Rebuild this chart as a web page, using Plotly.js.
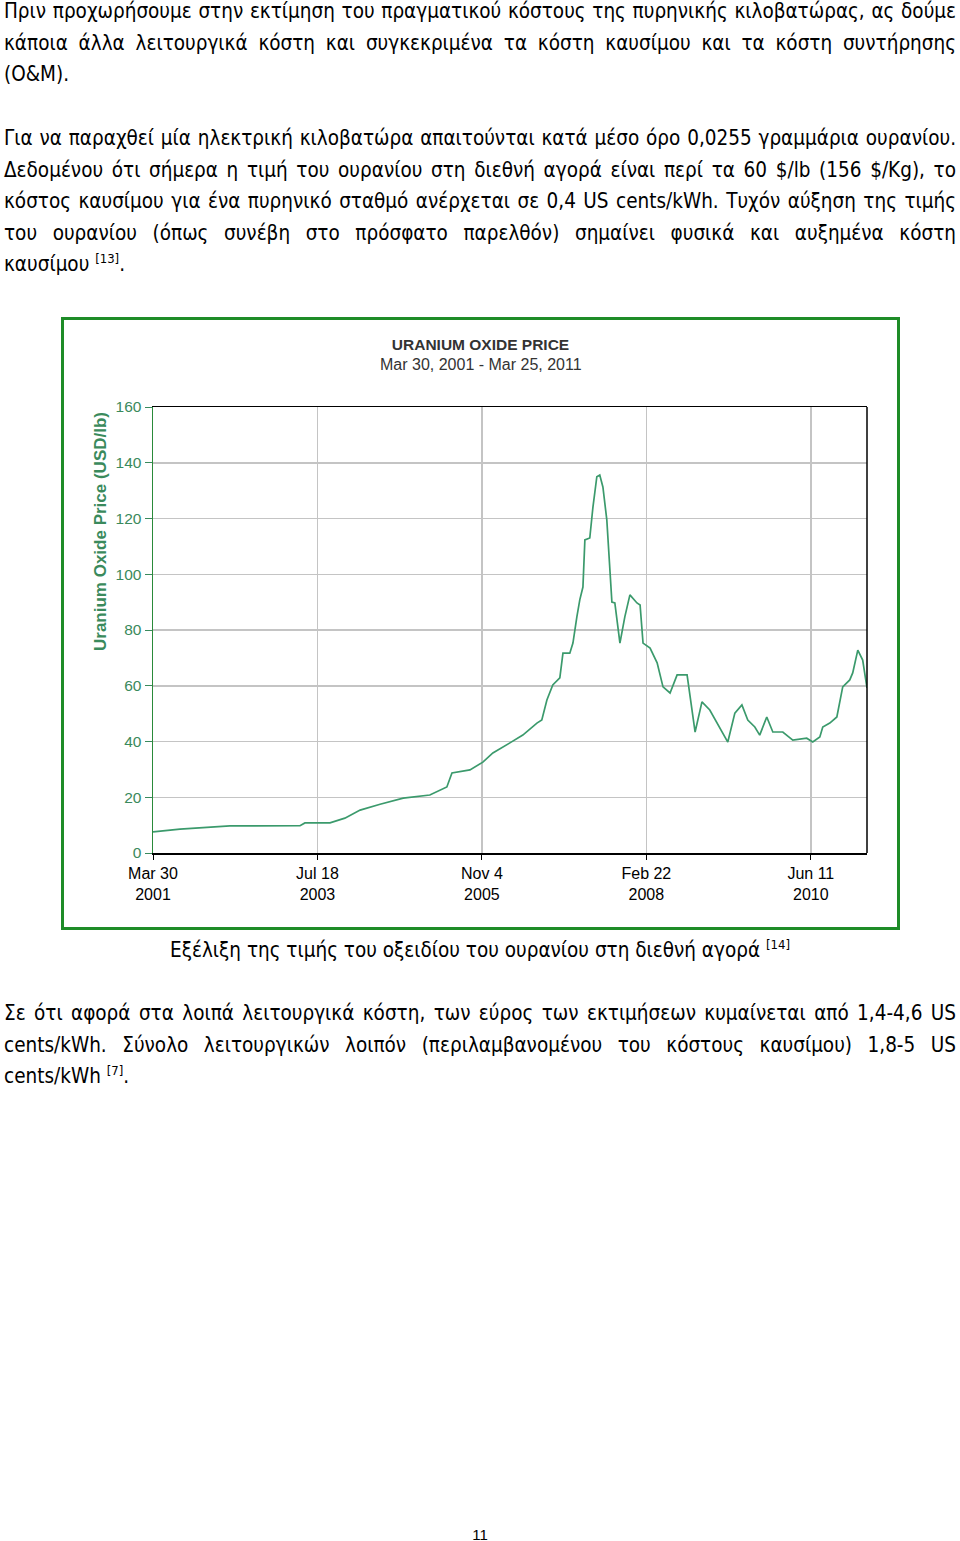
<!DOCTYPE html>
<html>
<head>
<meta charset="utf-8">
<script src="https://cdn.plot.ly/plotly-3.0.1.min.js"></script>
<style>
  html, body { margin:0; padding:0; background:#fff; }
  body { width:960px; height:1541px; position:relative; overflow:hidden; font-family:"DejaVu Sans Condensed","DejaVu Sans",sans-serif; color:#000; }
  div.pline { position:absolute; left:4px; width:952px; font-size:20.5px; line-height:22px; white-space:nowrap; text-align:justify; text-align-last:justify; }
  div.plast { text-align-last:left; }
  sup { font-size:13px; vertical-align:8px; line-height:0; }
  #frame { position:absolute; left:61px; top:317px; width:833px; height:607px; border:3px solid #1e8c28; }
  #chart { width:833px; height:607px; }
  .caption { position:absolute; left:0; width:960px; text-align:center; font-size:20.5px; line-height:22px; }
  .pnum { position:absolute; left:0; width:960px; text-align:center; top:1526px; font-family:"Liberation Sans",Arial,sans-serif; font-size:15px; }
</style>
</head>
<body>
<div class="pline" style="top:0px">Πριν προχωρήσουμε στην εκτίμηση του πραγματικού κόστους της πυρηνικής κιλοβατώρας, ας δούμε</div>
<div class="pline" style="top:32px">κάποια άλλα λειτουργικά κόστη και συγκεκριμένα τα κόστη καυσίμου και τα κόστη συντήρησης</div>
<div class="pline plast" style="top:63px">(O&amp;M).</div>
<div class="pline" style="top:127px">Για να παραχθεί μία ηλεκτρική κιλοβατώρα απαιτούνται κατά μέσο όρο 0,0255 γραμμάρια ουρανίου.</div>
<div class="pline" style="top:159px">Δεδομένου ότι σήμερα η τιμή του ουρανίου στη διεθνή αγορά είναι περί τα 60 $/lb (156 $/Kg), το</div>
<div class="pline" style="top:190px">κόστος καυσίμου για ένα πυρηνικό σταθμό ανέρχεται σε 0,4 US cents/kWh. Τυχόν αύξηση της τιμής</div>
<div class="pline" style="top:222px">του ουρανίου (όπως συνέβη στο πρόσφατο παρελθόν) σημαίνει φυσικά και αυξημένα κόστη</div>
<div class="pline plast" style="top:253px">καυσίμου <sup>[13]</sup>.</div>

<div id="frame"><div id="chart"></div></div>

<div class="caption" style="top:939px">Εξέλιξη της τιμής του οξειδίου του ουρανίου στη διεθνή αγορά <sup>[14]</sup></div>

<div class="pline" style="top:1002px">Σε ότι αφορά στα λοιπά λειτουργικά κόστη, των εύρος των εκτιμήσεων κυμαίνεται από 1,4-4,6 US</div>
<div class="pline" style="top:1034px">cents/kWh. Σύνολο λειτουργικών λοιπόν (περιλαμβανομένου του κόστους καυσίμου) 1,8-5 US</div>
<div class="pline plast" style="top:1065px">cents/kWh <sup>[7]</sup>.</div>

<div class="pnum">11</div>

<script>
const dates = ["2001-03-30","2001-08-15","2002-04-27","2003-04-20","2003-05-15","2003-09-20","2003-12-05","2004-02-21","2004-06-02","2004-09-28","2005-02-11","2005-05-09","2005-06-04","2005-09-04","2005-11-09","2005-12-30","2006-03-27","2006-06-01","2006-08-12","2006-09-06","2006-10-02","2006-11-01","2006-12-07","2006-12-23","2007-01-27","2007-02-12","2007-03-04","2007-03-19","2007-04-04","2007-04-14","2007-05-09","2007-05-25","2007-06-14","2007-06-29","2007-07-15","2007-08-04","2007-08-30","2007-09-14","2007-10-10","2007-11-04","2007-11-30","2008-01-05","2008-01-21","2008-02-05","2008-03-12","2008-04-17","2008-05-17","2008-06-22","2008-07-28","2008-09-17","2008-10-28","2008-12-02","2009-01-11","2009-02-16","2009-04-13","2009-05-19","2009-06-24","2009-07-24","2009-08-29","2009-09-23","2009-10-29","2009-11-29","2010-01-19","2010-03-11","2010-05-21","2010-06-21","2010-07-27","2010-08-11","2010-09-16","2010-10-22","2010-11-21","2010-12-27","2011-01-11","2011-02-06","2011-03-03","2011-03-25"];
const prices = [7.6,8.6,9.7,9.8,10.8,10.8,12.5,15.4,17.5,19.7,20.8,23.7,28.7,29.8,32.6,35.9,39.5,42.3,46.6,47.7,54.9,60.3,62.8,71.7,71.7,75.3,84.7,90.8,95.4,112.3,113,124,135,135.6,131.3,119.5,90,89.7,75.3,84.7,92.6,89.7,89,75.3,73.5,68.2,59.6,57.4,63.9,63.9,43.4,54.2,51.3,46.6,39.8,50.2,53.1,47.7,45.2,42.3,48.8,43.4,43.4,40.5,41.2,39.8,41.6,45.2,46.6,48.8,59.6,62.1,64.6,72.8,69.2,59.2];
const tickDates = ["2001-03-30","2003-07-18","2005-11-04","2008-02-22","2010-06-11"];
const tickLabels = ["Mar 30<br>2001","Jul 18<br>2003","Nov 4<br>2005","Feb 22<br>2008","Jun 11<br>2010"];
const chartTitle = "URANIUM OXIDE PRICE";
const chartSubtitle = "Mar 30, 2001 - Mar 25, 2011";
const yTitle = "Uranium Oxide Price (USD/lb)";

const green = "#3a8a5c";
const arial = "'Liberation Sans', Arial, sans-serif";
const trace = {
  x: dates, y: prices, type: "scatter", mode: "lines",
  line: {color: "#3b9a6c", width: 1.7}, hoverinfo: "skip"
};
const layout = {
  width: 833, height: 607,
  margin: {l: 89, r: 30, t: 87, b: 74},
  paper_bgcolor: "#fff", plot_bgcolor: "#fff",
  showlegend: false,
  font: {family: arial, size: 14, color: "#000"},
  title: {text: "<b>" + chartTitle + "</b>", x: 0.5, xanchor: "center", y: 1 - 25/607, yanchor: "middle", yref: "container",
          font: {family: arial, size: 15.5, color: "#333"}},
  annotations: [
    {text: chartSubtitle, xref: "paper", yref: "paper", x: 0.459, y: 1 + (87-44)/446, xanchor: "center", yanchor: "middle",
     showarrow: false, font: {family: arial, size: 16, color: "#333"}},
    {text: "<b>" + yTitle + "</b>", textangle: -90, xref: "paper", yref: "paper", x: (100-153)/714, y: (853-532)/446,
     xanchor: "center", yanchor: "middle", showarrow: false, font: {family: arial, size: 17, color: green}}
  ],
  xaxis: {
    type: "date", range: ["2001-03-30", "2011-03-25"],
    tickmode: "array", tickvals: tickDates, ticktext: tickLabels,
    showgrid: true, gridcolor: "#c4c4c4", gridwidth: 1.5,
    showline: true, linecolor: "#000", linewidth: 1.5, mirror: true,
    ticks: "outside", ticklen: 5, tickcolor: "#000",
    tickfont: {family: arial, size: 16, color: "#000"}, zeroline: false, fixedrange: true
  },
  yaxis: {
    range: [0, 160], dtick: 20, tick0: 0,
    showgrid: true, gridcolor: "#c4c4c4", gridwidth: 1.5,
    showline: true, linecolor: "#2a8a3a", linewidth: 1.5,
    ticks: "outside", ticklen: 7, tickcolor: green,
    tickfont: {family: arial, size: 15.5, color: green}, zeroline: false, fixedrange: true
  },
  shapes: [{type: "line", xref: "paper", yref: "paper", x0: 1, x1: 1, y0: 0, y1: 1, line: {color: "#000", width: 1.5}}]
};
Plotly.newPlot("chart", [trace], layout, {staticPlot: true, displayModeBar: false});
</script>
</body>
</html>
